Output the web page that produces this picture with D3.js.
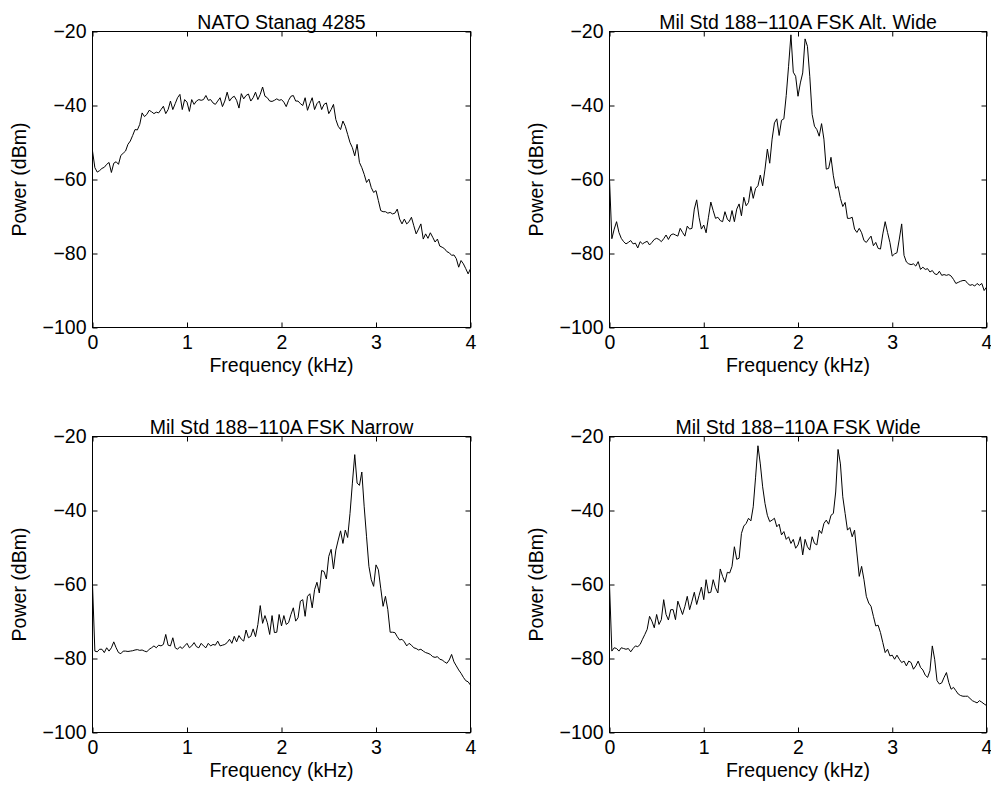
<!DOCTYPE html>
<html>
<head>
<meta charset="utf-8">
<script src="https://cdn.jsdelivr.net/npm/d3@7"></script>
<style>
  body { margin: 0; background: #fff; }
  text { font-family: "Liberation Sans", Arial, sans-serif; }
</style>
</head>
<body>
<svg id="psd_canvas" width="991" height="789"></svg>
<script>
// frequency grid, 0..4 kHz in 25 Hz steps (161 bins)
const freqKHz = d3.range(161).map(i => i * 0.025);

const xTicks = [0, 1, 2, 3, 4];
const yTicks = [-100, -80, -60, -40, -20];

const titles = [
    "NATO Stanag 4285",
    "Mil Std 188\u2212110A FSK Alt. Wide",
    "Mil Std 188\u2212110A FSK Narrow",
    "Mil Std 188\u2212110A FSK Wide"
];

const stanag4285 = [
    -52.3, -56.8, -58, -57.6, -57, -56.7, -55.9, -55.4,
    -58.1, -55.6, -55.2, -55.9, -53.5, -52.9, -52.3, -50.5,
    -49.6, -48.1, -46.5, -46.6, -45.1, -42, -43, -42.4,
    -41.3, -41.7, -42.2, -41.8, -42, -41.1, -40.2, -42.2,
    -41.1, -38.8, -41.1, -39.5, -37.9, -37, -41.1, -38.4,
    -39.1, -41.6, -38.4, -39.7, -38.8, -38.4, -38.6, -38.4,
    -37.3, -38.6, -38.4, -39.3, -39.7, -38.8, -37.9, -40.3,
    -38.8, -36.4, -38.8, -37.9, -37.5, -38.6, -40.7, -36.8,
    -38.2, -37.3, -36.9, -38.8, -37.9, -36.4, -38.4, -37,
    -35, -37.5, -37.9, -38.8, -38.9, -38.6, -38.2, -38.6,
    -38.4, -39.1, -40.3, -38.6, -37.5, -37.3, -38.8, -38.8,
    -39.5, -40, -37.9, -41.3, -39.5, -37.9, -41.1, -39.5,
    -38.8, -41.1, -39.7, -39.3, -42.2, -41.1, -39.7, -43.8,
    -45.6, -46.5, -44.2, -45.6, -47.8, -50, -51.4, -53.6,
    -50.5, -55.4, -56.8, -58.6, -60.8, -59.9, -62.2, -63.5,
    -63, -65.7, -68.4, -68.7, -68.7, -69.1, -68.9, -69.3,
    -69.1, -68, -70.7, -72, -70.7, -72, -71.4, -70.2,
    -72.5, -74.7, -73.4, -72, -76.1, -74.7, -75.9, -74.4,
    -75.6, -76.9, -76.1, -78, -78.3, -78.7, -79.5, -79.8,
    -80.5, -80.4, -81.4, -83.7, -81.9, -82.8, -84.1, -85.5,
    -84.1
];

const fskAltWide = [
    -59.9, -76, -73.4, -71.4, -74.3, -75.9, -76.8, -77.4,
    -77, -76.5, -77.4, -77.2, -78.5, -76.8, -77.4, -77,
    -76.7, -77.7, -77, -76.2, -75.9, -76.2, -76.8, -76,
    -75, -76.2, -75, -74.7, -75, -75.3, -73.2, -74.3,
    -75.3, -72.6, -73.4, -73.2, -68, -65.5, -70.2, -73.4,
    -72.3, -74.4, -70.2, -66.1, -68.4, -70.5, -70.2, -71.1,
    -71.4, -68.7, -70.7, -71.4, -68.4, -71.4, -68, -66.6,
    -69.8, -64.8, -67.1, -66.2, -61.9, -65.1, -62.4, -61.7,
    -58.8, -61.7, -57.2, -51.8, -55.6, -49.1, -44.7, -43.6,
    -48.1, -44, -43.6, -37.3, -29.4, -20.9, -31, -32.1,
    -37.5, -33.9, -31.2, -22, -24, -32.1, -42.4, -45.6,
    -46.5, -48.3, -44.9, -49.1, -57.2, -57, -54, -59,
    -62.4, -61.9, -65.1, -67.3, -66.2, -70.5, -70.5, -70.2,
    -73.4, -74.3, -73.2, -74.4, -76.5, -77, -76.1, -75.3,
    -77.9, -77, -78.6, -78.8, -74.7, -71.4, -74.3, -77,
    -80.7, -80.1, -79.8, -76.1, -72, -80.5, -82.3, -82.8,
    -83, -82.8, -83.4, -82.2, -84.3, -83.7, -84.3, -84.1,
    -85, -84.6, -85.5, -85.7, -84.8, -85.9, -85.7, -85.9,
    -85.7, -86.1, -87, -88.1, -87.8, -87.5, -87.3, -87.3,
    -88.1, -88.6, -88.4, -88.8, -88.1, -88.6, -88.1, -90,
    -89.1
];

const fskNarrow = [
    -60, -78, -78.2, -77.5, -77.5, -78.4, -77.1, -78,
    -77.1, -75.5, -77.1, -78.4, -78.7, -78, -78, -78.1,
    -78, -77.9, -77.7, -77.6, -77.8, -77.7, -78, -78.2,
    -77.5, -77.1, -76.6, -77.1, -76.4, -76.6, -76.2, -73.5,
    -76.4, -76.6, -74.4, -77.1, -77.5, -76.8, -77.3, -76.6,
    -75.9, -77.1, -76.6, -75.7, -76.8, -77.1, -75.9, -76.6,
    -77.1, -75.9, -76.6, -76.2, -76.4, -75.3, -76.6, -76.4,
    -76.2, -75.7, -74.8, -75.9, -74, -75.5, -73.8, -74.8,
    -75.3, -72.3, -74.4, -74, -72, -74.1, -70.8, -65.7,
    -70.5, -68.4, -70.3, -73.5, -68.4, -73, -72.9, -68.1,
    -71.2, -68.4, -70.8, -70.3, -68.1, -66.3, -69.9, -69,
    -64.5, -64.1, -68.6, -63.2, -62.5, -66.3, -61.4, -59.4,
    -62.3, -56.2, -56.5, -58.5, -52.4, -50.5, -55.8, -50.7,
    -48, -45.5, -48.9, -45.3, -47.3, -40.8, -32.6, -24.9,
    -32.6, -33.2, -29.6, -39, -47.1, -55.1, -58.7, -60.5,
    -54.7, -56, -61, -65.9, -63.2, -66.8, -72.9, -72.9,
    -73, -74.1, -75, -74.8, -75.5, -76.6, -75.9, -76.4,
    -77.1, -77.3, -77.7, -77.5, -78, -78.4, -78.6, -78.9,
    -79.5, -79.7, -79.5, -80.2, -80.4, -80.9, -81.3, -80.4,
    -78.9, -80.9, -82, -83.1, -84, -85.1, -86, -86.3,
    -87.2
];

const fskWide = [
    -60, -78, -77.1, -77.3, -78, -77.1, -77.3, -77.5,
    -77.3, -78.2, -77.3, -76.6, -76.8, -76.2, -74.8, -73.5,
    -72.1, -68.6, -69.9, -71.7, -68.1, -70.8, -69.5, -64.1,
    -68.1, -69.6, -66.8, -66.8, -69.5, -64.5, -66.3, -68.1,
    -65.9, -63.2, -66.8, -64.5, -62.1, -65.4, -63, -60.7,
    -64.1, -58.7, -62.3, -62.1, -58.7, -60.9, -62.3, -55.8,
    -57.8, -59.4, -56.7, -56.9, -55.1, -49.8, -53.2, -52.9,
    -46.2, -44.2, -43.5, -42.1, -42.8, -39, -31, -22.5,
    -27.4, -33.6, -38.1, -41.3, -43, -42.6, -42.1, -44.4,
    -43.7, -46.6, -45.7, -47.8, -47.1, -48.9, -47.8, -50.2,
    -49.3, -47.1, -52, -47.8, -49.8, -50.7, -47.1, -48.9,
    -49.3, -45.3, -46.2, -43.5, -42.6, -43.7, -41.3, -40.8,
    -35, -23.5, -27.4, -36.3, -40.8, -45.3, -44.6, -47.1,
    -45.3, -51.5, -57.8, -55.1, -58.7, -63.2, -65, -65.9,
    -68.6, -71.2, -71, -73, -75.7, -78.4, -77.5, -79.3,
    -79.1, -80.2, -79.1, -80.2, -81.1, -80.7, -82, -80.7,
    -81.1, -82.9, -82, -80.7, -82.4, -83.1, -84.5, -85.1,
    -83.3, -76.6, -80.2, -86, -86.9, -86.6, -85.1, -83.8,
    -86.5, -88.3, -87.8, -88.7, -89.6, -90, -90.2, -90.2,
    -90.2, -90.8, -91.4, -91.7, -92, -91.4, -91.8, -92.3,
    -92.7
];

const svg = d3.select("#psd_canvas");
const fontSize = 19.5;

// one subplot: box, inward ticks on all four sides, labels
function drawSubplot(left, top, w, h, title, power) {
    const g = svg.append("g").attr("transform", `translate(${left}, ${top})`);

    const x = d3.scaleLinear().domain([0, 4]).range([0, w]);
    const y = d3.scaleLinear().domain([-100, -20]).range([h, 0]);

    const bottomAxis = d3.axisBottom(x).tickValues(xTicks).tickFormat(d3.format("d"))
        .tickSizeInner(-5).tickSizeOuter(0).tickPadding(8);
    const leftAxis = d3.axisLeft(y).tickValues(yTicks).tickFormat(d3.format("d"))
        .tickSizeInner(-5).tickSizeOuter(0).tickPadding(6);
    const topAxis = d3.axisTop(x).tickValues(xTicks).tickFormat("")
        .tickSizeInner(-5).tickSizeOuter(0);
    const rightAxis = d3.axisRight(y).tickValues(yTicks).tickFormat("")
        .tickSizeInner(-5).tickSizeOuter(0);

    g.append("g").attr("transform", `translate(0, ${h})`).call(bottomAxis);
    g.append("g").call(leftAxis);
    g.append("g").call(topAxis);
    g.append("g").attr("transform", `translate(${w}, 0)`).call(rightAxis);

    g.selectAll(".tick text")
        .attr("font-size", fontSize)
        .attr("font-family", "'Liberation Sans', Arial, sans-serif")
        .attr("fill", "#000");
    g.selectAll(".tick line").attr("stroke", "#000");
    g.selectAll(".domain").remove();

    const line = d3.line()
        .x((d, i) => x(freqKHz[i]))
        .y(d => y(d));

    g.append("path")
        .datum(power)
        .attr("fill", "none")
        .attr("stroke", "#000")
        .attr("stroke-width", 1)
        .attr("stroke-linejoin", "round")
        .attr("d", line);

    g.append("rect")
        .attr("width", w)
        .attr("height", h)
        .attr("fill", "none")
        .attr("stroke", "#000")
        .attr("stroke-width", 1);

    g.append("text")
        .attr("x", w / 2)
        .attr("y", -3)
        .attr("text-anchor", "middle")
        .attr("font-size", fontSize)
        .text(title);

    g.append("text")
        .attr("x", w / 2)
        .attr("y", h + 44)
        .attr("text-anchor", "middle")
        .attr("font-size", fontSize)
        .text("Frequency (kHz)");

    g.append("text")
        .attr("transform", `translate(${-67}, ${h / 2}) rotate(-90)`)
        .attr("text-anchor", "middle")
        .attr("font-size", fontSize)
        .text("Power (dBm)");
}

drawSubplot(92.5, 31.5, 378, 296, titles[0], stanag4285);
drawSubplot(609.5, 31.5, 377, 296, titles[1], fskAltWide);
drawSubplot(92.5, 436.5, 378, 296, titles[2], fskNarrow);
drawSubplot(609.5, 436.5, 377, 296, titles[3], fskWide);
</script>
</body>
</html>
